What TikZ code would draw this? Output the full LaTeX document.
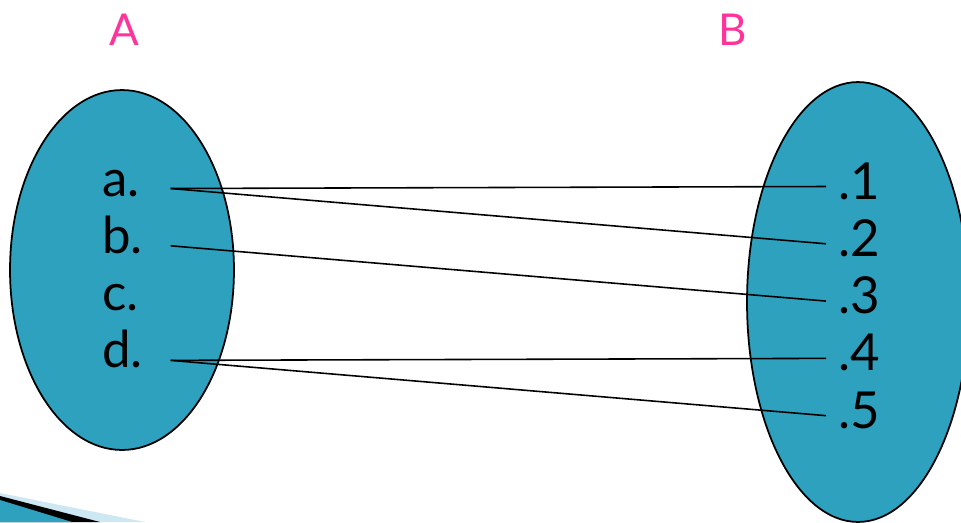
\documentclass[tikz,border=0pt]{standalone}
\usepackage{fontspec}
\setmainfont{Lato}
\usetikzlibrary{shapes.geometric, positioning}
\definecolor{setfill}{RGB}{46,161,190}
\definecolor{setpink}{RGB}{255,51,153}
\definecolor{stripe}{RGB}{205,232,242}
\tikzstyle{setbox} = [ellipse, draw=black, line width=1pt, fill=setfill, inner sep=0pt]
\tikzstyle{setname} = [text=setpink, font=\fontsize{25}{30}\selectfont, inner sep=0pt]
\tikzstyle{elemleft} = [font=\fontsize{29}{35}\selectfont, text width=1.36cm, align=left, text height=0.3cm, text depth=0pt, inner sep=0pt]
\tikzstyle{elemright} = [font=\fontsize{29}{35}\selectfont, text height=0.5cm, text depth=0pt, inner xsep=0.24cm, inner ysep=0pt]
\tikzstyle{link} = [line width=0.9pt]

\begin{document}
\begin{tikzpicture}[x=0.02cm, y=-0.02cm]
\useasboundingbox (0,0) rectangle (961,522);

% corner decoration
\fill[stripe] (0,493) -- (145,522) -- (0,522) -- cycle;
\fill[black] (0,496) -- (100,522) -- (0,522) -- cycle;
\fill[setfill] (0,500) -- (72,522) -- (0,522) -- cycle;

% the two sets
\node (setA) [setbox, minimum width=4.48cm, minimum height=7.2cm] at (122,270) {};
\node (setB) [setbox, minimum width=4.44cm, minimum height=8.8cm] at (858,302) {};
\node (nameA) [setname] at (124,30) {A};
\node (nameB) [setname] at (733,30) {B};

% elements of A
\node (a) [elemleft, anchor=base west] at (102,196) {a.};
\node (b) [elemleft, below=1.146cm of a.base west, anchor=base west] {b.};
\node (c) [elemleft, below=1.146cm of b.base west, anchor=base west] {c.};
\node (d) [elemleft, below=1.146cm of c.base west, anchor=base west] {d.};

% elements of B
\node (one) [elemright, anchor=base west] at (826,199) {.1};
\node (two) [elemright, below=1.146cm of one.base west, anchor=base west] {.2};
\node (three) [elemright, below=1.146cm of two.base west, anchor=base west] {.3};
\node (four) [elemright, below=1.146cm of three.base west, anchor=base west] {.4};
\node (five) [elemright, below=1.146cm of four.base west, anchor=base west] {.5};

\draw [link] (a.east) -- (one.west);
\draw [link] (a.east) -- (two.west);
\draw [link] (b.east) -- (three.west);
\draw [link] (d.east) -- (four.west);
\draw [link] (d.east) -- (five.west);

\end{tikzpicture}
\end{document}
